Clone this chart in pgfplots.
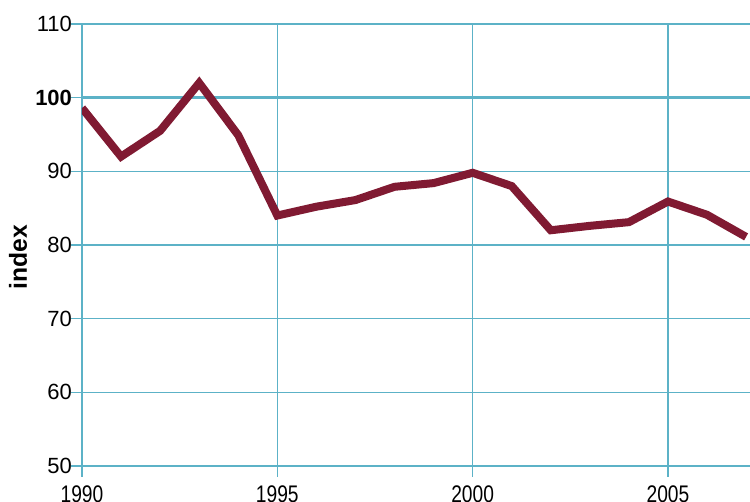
\documentclass[border=0pt]{standalone}
\usepackage{pgfplots}
\pgfplotsset{compat=1.18}
\usepackage{fontspec}
\setmainfont{Liberation Sans}
\newfontfamily\narrowfont{Liberation Sans}[FakeStretch=0.8]
\definecolor{gridteal}{RGB}{92,178,199}
\definecolor{maroon}{RGB}{128,26,50}
\begin{document}
\begin{tikzpicture}
\begin{axis}[
  scale only axis,
  width=501pt, height=331.5pt,
  xmin=1990, xmax=2007.1,
  ymin=50, ymax=110,
  axis x line*=bottom, axis y line*=left,
  axis line style={gridteal, line width=1.1pt, -},
  xtick={1990,1995,2000,2005},
  ytick={50,60,70,80,90,110},
  extra y ticks={100},
  extra y tick style={
    grid style={gridteal, line width=2.2pt},
    yticklabel style={font=\fontsize{16.5pt}{18pt}\selectfont\bfseries},
  },
  grid=major,
  grid style={gridteal, line width=1.1pt},
  tick style={gridteal, line width=1.1pt},
  x tick label style={/pgf/number format/1000 sep={}},
  xtick align=outside,
  ytick align=outside,
  major tick length=8pt,
  xticklabel style={font=\narrowfont\fontsize{18pt}{20pt}\selectfont, yshift=-3pt},
  yticklabel style={font=\fontsize{16.5pt}{18pt}\selectfont, xshift=4pt},
  /pgf/number format/assume math mode=true,
  ylabel={\textbf{index}},
  ylabel style={font=\fontsize{18.5pt}{20pt}\selectfont, at={(axis description cs:-0.0958,0.473)}, anchor=center},
  clip=true,
]
\addplot[maroon, line width=6pt, line join=miter] coordinates {
(1990,98.6) (1991,92.0) (1992,95.5) (1993,102.0) (1994,94.9)
(1995,84.0) (1996,85.2) (1997,86.1) (1998,87.9) (1999,88.4)
(2000,89.8) (2001,88.0) (2002,82.0) (2003,82.6) (2004,83.1)
(2005,85.9) (2006,84.1) (2007,81.1)
};
\end{axis}
\pgfresetboundingbox
\path[use as bounding box] (current axis.south west) ++(-61.5pt,-27pt) rectangle ([yshift=18pt]current axis.north east);
\end{tikzpicture}
\end{document}
